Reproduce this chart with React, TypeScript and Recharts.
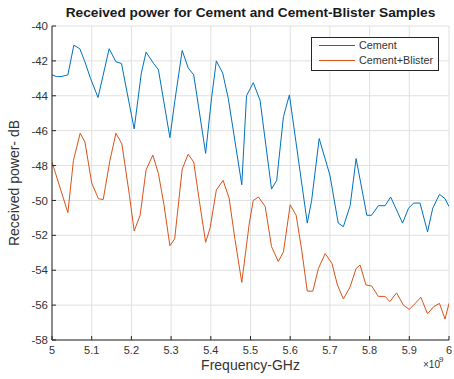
import React from 'react';
import { LineChart, Line, XAxis, YAxis, CartesianGrid, Legend } from 'recharts';

// Frequency in GHz (axis shows x 10^9), received power in dB
const cementFreq = [5.000, 5.011, 5.023, 5.040, 5.055, 5.070, 5.082, 5.097, 5.116, 5.144, 5.161, 5.175, 5.207, 5.225, 5.237, 5.256, 5.268, 5.297, 5.309, 5.328, 5.343, 5.357, 5.387, 5.402, 5.414, 5.430, 5.444, 5.478, 5.490, 5.507, 5.524, 5.553, 5.566, 5.583, 5.598, 5.643, 5.654, 5.673, 5.700, 5.721, 5.734, 5.751, 5.766, 5.793, 5.805, 5.822, 5.839, 5.853, 5.868, 5.883, 5.898, 5.911, 5.927, 5.946, 5.959, 5.976, 5.990, 6.000];
const cementPower = [-42.8, -42.9, -42.9, -42.8, -41.1, -41.3, -42.0, -43.0, -44.1, -41.3, -42.05, -42.15, -45.9, -42.7, -41.5, -42.15, -42.5, -46.4, -44.35, -41.4, -42.4, -42.8, -47.3, -44.1, -42.0, -42.7, -44.15, -49.1, -44.0, -43.25, -44.25, -49.35, -48.85, -45.2, -43.95, -51.3, -50.0, -46.45, -48.55, -51.3, -51.5, -50.3, -47.6, -50.85, -50.85, -50.3, -50.3, -49.8, -50.55, -51.3, -50.45, -50.15, -50.15, -51.8, -50.45, -49.65, -49.9, -50.35];

const blisterFreq = [5.000, 5.040, 5.054, 5.071, 5.083, 5.100, 5.117, 5.129, 5.146, 5.161, 5.176, 5.195, 5.207, 5.222, 5.237, 5.254, 5.268, 5.282, 5.297, 5.309, 5.328, 5.343, 5.357, 5.371, 5.387, 5.398, 5.414, 5.431, 5.446, 5.461, 5.478, 5.497, 5.507, 5.520, 5.537, 5.553, 5.570, 5.583, 5.600, 5.615, 5.629, 5.643, 5.657, 5.671, 5.688, 5.705, 5.719, 5.734, 5.751, 5.766, 5.776, 5.791, 5.805, 5.822, 5.839, 5.851, 5.868, 5.885, 5.900, 5.915, 5.929, 5.946, 5.961, 5.976, 5.990, 6.000];
const blisterPower = [-47.8, -50.7, -47.7, -46.15, -46.65, -49.0, -49.9, -49.95, -47.7, -46.15, -46.75, -49.7, -51.75, -50.85, -48.25, -47.4, -48.45, -50.25, -52.6, -52.2, -48.2, -47.35, -47.8, -50.0, -52.4, -51.6, -49.4, -48.85, -49.85, -52.25, -54.7, -51.3, -50.0, -49.8, -50.35, -52.65, -53.5, -52.95, -50.25, -50.85, -52.85, -55.2, -55.2, -53.9, -53.05, -53.6, -54.85, -55.65, -54.95, -53.9, -53.7, -54.85, -54.9, -55.5, -55.5, -55.8, -55.3, -56.0, -56.25, -55.9, -55.55, -56.5, -56.1, -55.9, -56.8, -55.9];

const xTicks = [5, 5.1, 5.2, 5.3, 5.4, 5.5, 5.6, 5.7, 5.8, 5.9, 6];
const yTicks = [-58, -56, -54, -52, -50, -48, -46, -44, -42, -40];

const seriesNames = ['Cement', 'Cement+Blister'];
const seriesColors = ['#0072BD', '#D95319'];

const cementData = cementFreq.map((f, i) => ({ f, p: cementPower[i] }));
const blisterData = blisterFreq.map((f, i) => ({ f, p: blisterPower[i] }));

const FONT = '"Liberation Sans", Arial, sans-serif';
const AXIS = '#262626';
const TXT = '#333333';

const BottomTick = (props: any) => {
  const { x, y, payload } = props;
  return (
    <g>
      <line x1={x} y1={y - 6} x2={x} y2={y - 10} stroke={AXIS} strokeWidth={1} />
      <text x={x} y={y} dy="0.72em" textAnchor="middle" fontSize={11} fill={TXT} fontFamily={FONT}>
        {String(payload.value)}
      </text>
    </g>
  );
};

const LeftTick = (props: any) => {
  const { x, y, payload } = props;
  return (
    <g>
      <line x1={x + 4} y1={y} x2={x + 8} y2={y} stroke={AXIS} strokeWidth={1} />
      <text x={x} y={y} dy="0.36em" textAnchor="end" fontSize={11.5} fill={TXT} fontFamily={FONT}>
        {String(payload.value)}
      </text>
    </g>
  );
};

const TopTick = (props: any) => {
  const { x, y } = props;
  return <line x1={x} y1={y} x2={x} y2={y + 4} stroke={AXIS} strokeWidth={1} />;
};

const RightTick = (props: any) => {
  const { x, y } = props;
  return <line x1={x} y1={y} x2={x - 4} y2={y} stroke={AXIS} strokeWidth={1} />;
};

const XLabel = (props: any) => {
  const vb = props.viewBox || {};
  const cx = vb.x + vb.width / 2;
  const right = vb.x + vb.width;
  const top = vb.y;
  return (
    <g fontFamily={FONT} fill={TXT}>
      <text x={cx} y={top + 30} textAnchor="middle" fontSize={14} fill={TXT}>Frequency-GHz</text>
      <text x={right - 26} y={top + 28} fontSize={10} fill={TXT}>
        {'\u00d710'}
      </text>
      <text x={right - 10} y={top + 22} fontSize={8} fill={TXT}>9</text>
    </g>
  );
};

const YLabel = (props: any) => {
  const vb = props.viewBox || {};
  const cy = vb.y + vb.height / 2;
  const x = 19;
  return (
    <text x={x} y={cy} transform={`rotate(-90 ${x} ${cy})`} textAnchor="middle" fontSize={14} fill={TXT} fontFamily={FONT}>
      Received power- dB
    </text>
  );
};

const LegendBox = (props: any) => {
  const payload = props.payload || [];
  return (
    <svg width={128} height={34} style={{ display: 'block' }}>
      <rect x={0.5} y={0.5} width={127} height={33} fill="#fff" stroke={AXIS} strokeWidth={1} />
      {payload.map((entry: any, i: number) => (
        <g key={i}>
          <line x1={8} y1={8.5 + i * 15} x2={44} y2={8.5 + i * 15} stroke={entry.color} strokeWidth={1} />
          <text x={48} y={8.5 + i * 15} dy="0.36em" fontSize={10.8} fill={TXT} fontFamily={FONT}>
            {entry.value}
          </text>
        </g>
      ))}
    </svg>
  );
};

export default function App() {
  return (
    <div style={{ position: 'absolute', left: 0, top: 0, width: 454, height: 379, background: '#fff' }}>
      <div
        style={{
          position: 'absolute',
          left: 52,
          width: 397,
          top: 5,
          textAlign: 'center',
          fontFamily: FONT,
          fontWeight: 'bold',
          fontSize: 13.7,
          lineHeight: '16px',
          color: '#1a1a1a',
          whiteSpace: 'nowrap',
        }}
      >
        Received power for Cement and Cement-Blister Samples
      </div>
      <LineChart width={454} height={379} margin={{ top: 26, right: 5, bottom: 19, left: 12 }}>
        <CartesianGrid stroke="#e0e0e0" strokeWidth={1} xAxisId={0} yAxisId={0} />
        <XAxis
          xAxisId={0}
          dataKey="f"
          type="number"
          domain={[5, 6]}
          ticks={xTicks}
          allowDataOverflow
          height={20}
          tickSize={0}
          tickMargin={6}
          tickLine={false}
          axisLine={{ stroke: AXIS }}
          tick={<BottomTick />}
          interval={0}
          label={{ content: <XLabel /> }}
        />
        <XAxis
          xAxisId="top"
          orientation="top"
          type="number"
          domain={[5, 6]}
          ticks={xTicks}
          allowDataOverflow
          height={0}
          tickSize={0}
          tickMargin={0}
          tickLine={false}
          axisLine={{ stroke: AXIS }}
          tick={<TopTick />}
          interval={0}
        />
        <YAxis
          yAxisId={0}
          type="number"
          domain={[-58, -40]}
          ticks={yTicks}
          allowDataOverflow
          width={40}
          tickSize={0}
          tickMargin={4}
          tickLine={false}
          axisLine={{ stroke: AXIS }}
          tick={<LeftTick />}
          interval={0}
          label={{ content: <YLabel /> }}
        />
        <YAxis
          yAxisId="right"
          orientation="right"
          type="number"
          domain={[-58, -40]}
          ticks={yTicks}
          allowDataOverflow
          width={0}
          tickSize={0}
          tickMargin={0}
          tickLine={false}
          axisLine={{ stroke: AXIS }}
          tick={<RightTick />}
          interval={0}
        />
        <Legend
          layout="horizontal"
          verticalAlign="middle"
          align="center"
          wrapperStyle={{ left: 311, top: 37, width: 128, height: 34 }}
          content={<LegendBox />}
        />
        <Line
          xAxisId={0}
          yAxisId={0}
          data={cementData}
          dataKey="p"
          name={seriesNames[0]}
          stroke={seriesColors[0]}
          strokeWidth={1}
          dot={false}
          activeDot={false}
          isAnimationActive={false}
        />
        <Line
          xAxisId={0}
          yAxisId={0}
          data={blisterData}
          dataKey="p"
          name={seriesNames[1]}
          stroke={seriesColors[1]}
          strokeWidth={1}
          dot={false}
          activeDot={false}
          isAnimationActive={false}
        />
      </LineChart>
    </div>
  );
}
